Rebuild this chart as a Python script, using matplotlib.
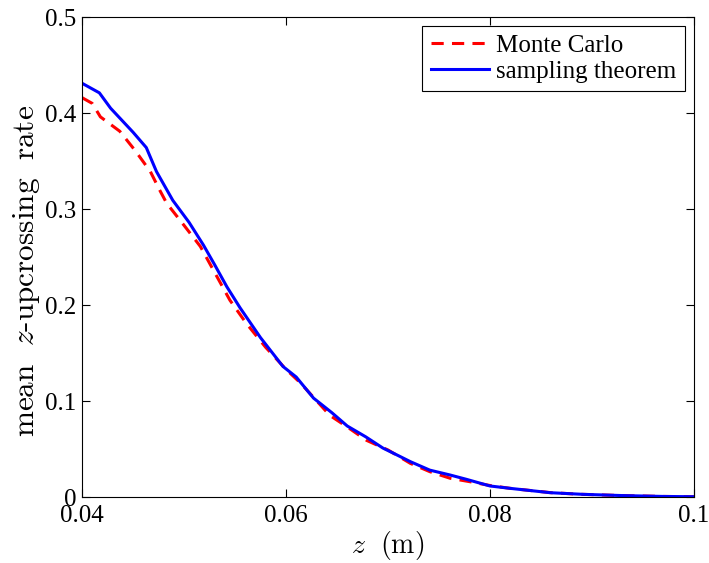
import numpy as np
import matplotlib
matplotlib.use('Agg')
import matplotlib.pyplot as plt

# sampling theorem curve
z_st = [0.0400, 0.0417, 0.0428, 0.0450, 0.0463, 0.0473, 0.0489, 0.0505, 0.0519,
        0.0530, 0.0542, 0.0555, 0.0575, 0.0597, 0.0610, 0.0627, 0.0645, 0.0660,
        0.0678, 0.0695, 0.0709, 0.0722, 0.0741, 0.0761, 0.0777, 0.0800, 0.0820,
        0.0859, 0.0891, 0.0930, 0.0970, 0.1000]
rate_st = [0.431, 0.421, 0.405, 0.380, 0.364, 0.339, 0.309, 0.286, 0.2625,
           0.242, 0.219, 0.197, 0.166, 0.136, 0.125, 0.103, 0.0878, 0.074,
           0.0628, 0.051, 0.0437, 0.0368, 0.028, 0.0229, 0.0184, 0.0115, 0.009,
           0.0045, 0.0028, 0.0015, 0.0006, 0.0003]

# Monte Carlo curve
z_mc = [0.0400, 0.0410, 0.0418, 0.0437, 0.0452, 0.0467, 0.0476, 0.0483, 0.0500,
        0.0516, 0.0530, 0.0545, 0.0561, 0.0580, 0.0600, 0.0614, 0.0643, 0.0660,
        0.0679, 0.0700, 0.0722, 0.0741, 0.0761, 0.0780, 0.0800, 0.0820, 0.0860,
        0.0890, 0.0930, 0.0970, 0.1000]
rate_mc = [0.416, 0.410, 0.396, 0.381, 0.361, 0.339, 0.320, 0.306, 0.283,
           0.261, 0.234, 0.205, 0.181, 0.156, 0.133, 0.119, 0.085, 0.073,
           0.059, 0.049, 0.035, 0.0264, 0.0195, 0.016, 0.012, 0.009, 0.0045,
           0.0028, 0.0015, 0.0006, 0.0003]

plt.rcParams['font.family'] = 'Liberation Serif'
plt.rcParams['mathtext.fontset'] = 'cm'

fig = plt.figure(figsize=(7.09, 5.63), dpi=100)
fig.set_facecolor('white')
ax = fig.add_axes([0.1157, 0.1172, 0.8631, 0.8526])

ax.plot(z_mc, rate_mc, color='#ff0000', linestyle=(0, (4, 2.7)), linewidth=2.2, label='Monte Carlo')
ax.plot(z_st, rate_st, color='#0000ff', linewidth=2.2, label='sampling theorem')

ax.set_xlim(0.04, 0.1)
ax.set_ylim(0, 0.5)
ax.set_xticks([0.04, 0.06, 0.08, 0.1])
ax.set_xticklabels(['0.04', '0.06', '0.08', '0.1'])
ax.set_yticks([0, 0.1, 0.2, 0.3, 0.4, 0.5])
ax.set_yticklabels(['0', '0.1', '0.2', '0.3', '0.4', '0.5'])
ax.tick_params(direction='in', top=True, right=True, length=6, width=0.8, labelsize=18)
ax.tick_params(axis='x', pad=6)
ax.tick_params(axis='y', pad=4)
for s in ax.spines.values():
  s.set_linewidth(0.8)

ax.set_xlabel(r'$z\ \ \mathrm{(m)}$', fontsize=20, labelpad=1)
ax.set_ylabel(r'$\mathrm{mean}\ \ z\mathrm{\text{-}upcrossing\ \ rate}$', fontsize=22.5)
ax.yaxis.set_label_coords(-0.066, 0.47)

leg = ax.legend(loc='upper right', fontsize=18, fancybox=False, framealpha=1,
                edgecolor='black', handlelength=2.3, handletextpad=0.3,
                borderpad=0.35, labelspacing=0.12, borderaxespad=0.35)
leg.get_frame().set_linewidth(0.8)

fig.savefig('out.png', dpi=100)
